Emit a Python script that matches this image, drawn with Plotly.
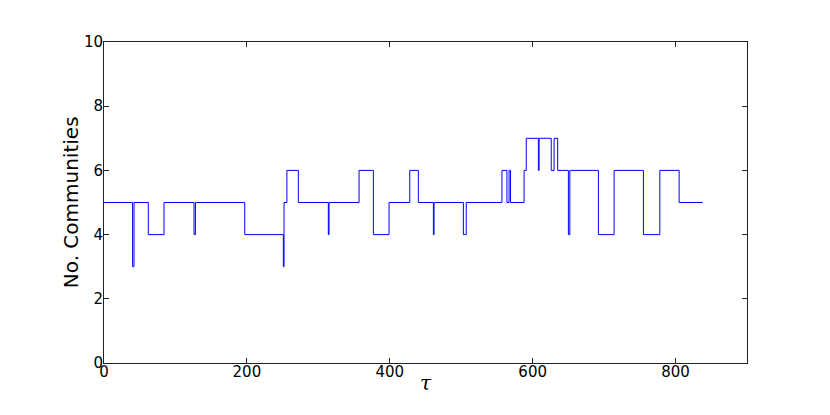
import plotly.graph_objs as go

# step breakpoints: tau where the count changes, and the new count
tau = [0, 40, 42, 62, 84, 126, 128, 197, 251, 252, 256, 272, 314, 315,
       357, 377, 399, 428, 440, 461, 462, 503, 507, 557, 564, 567, 569,
       588, 591, 608, 609, 626, 630, 635, 650, 652, 692, 714, 755, 778,
       805, 838]
communities = [5, 3, 5, 4, 5, 4, 5, 4, 3, 5, 6, 5, 4, 5,
               6, 4, 5, 6, 5, 4, 5, 4, 5, 6, 5, 6, 5,
               6, 7, 6, 7, 6, 7, 6, 4, 6, 4, 6, 4, 6,
               5, 5]

x_ticks = [0, 200, 400, 600, 800]
y_ticks = [0, 2, 4, 6, 8, 10]

fig = go.Figure()
fig.add_trace(go.Scatter(
    x=tau, y=communities,
    mode='lines',
    line=dict(color='#0000ff', width=1, shape='hv'),
    showlegend=False,
))

axis_common = dict(
    showgrid=False, zeroline=False,
    showline=True, linecolor='#222', linewidth=1, mirror='ticks',
    ticks='inside', ticklen=5, tickwidth=1, tickcolor='#222',
    tickfont=dict(family='DejaVu Sans', size=15, color='black'),
)

# the page body adds ~8px offset, so margins are trimmed on left/top
fig.update_layout(
    width=830, height=415,
    margin=dict(l=96, r=91, t=34, b=60),
    paper_bgcolor='white', plot_bgcolor='white',
    xaxis=dict(range=[0, 900], tickvals=x_ticks, ticklabelstandoff=-5,
               **axis_common),
    yaxis=dict(range=[0, 10], tickvals=y_ticks, ticklabelstandoff=-3,
               **axis_common),
    annotations=[
        dict(text='No. Communities', textangle=-90,
             xref='paper', yref='paper', x=-0.03, y=0.5,
             xanchor='right', yanchor='middle', showarrow=False,
             font=dict(family='DejaVu Sans', size=20, color='black')),
        dict(text='<i>τ</i>',
             xref='paper', yref='paper', x=0.5, y=-0.062,
             xanchor='center', yanchor='middle', showarrow=False,
             font=dict(family='DejaVu Serif', size=20, color='black')),
    ],
)

fig.write_html("out.html")
